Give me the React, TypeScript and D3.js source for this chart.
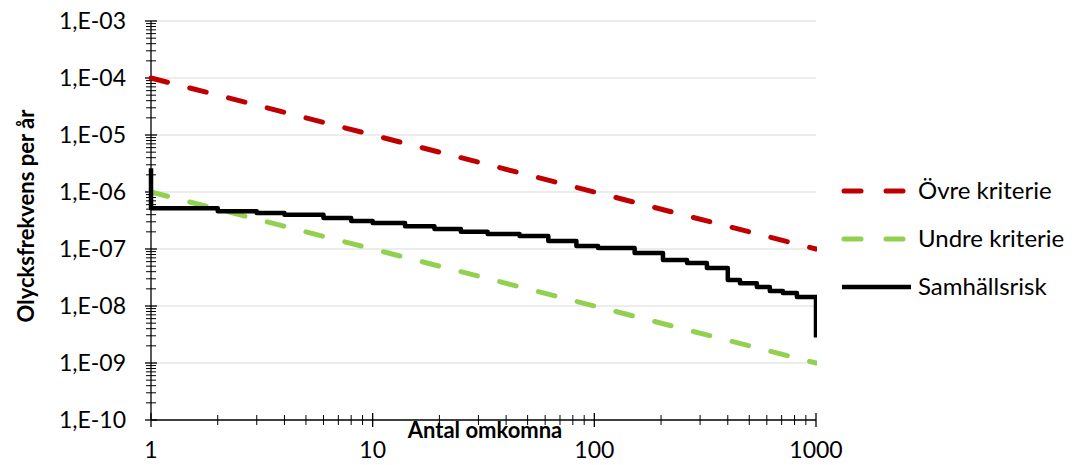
import React from 'react';
import * as d3 from 'd3';

// Samhällsrisk (FN-kurva), trappsteg: antal omkomna -> frekvens per år
const riskN = [1, 1, 2, 3, 4, 6, 8, 10, 14, 19, 25, 33, 46, 62, 83, 104, 152, 204, 262, 322, 400, 454, 541, 619, 709, 820, 1000, 1000];
const riskF = [2.6e-6, 5.2e-7, 4.6e-7, 4.3e-7, 4.0e-7, 3.5e-7, 3.1e-7, 2.85e-7, 2.5e-7, 2.25e-7, 2.0e-7, 1.83e-7, 1.69e-7, 1.38e-7, 1.13e-7, 1.04e-7, 8.5e-8, 6.4e-8, 5.7e-8, 4.65e-8, 2.85e-8, 2.5e-8, 2.15e-8, 1.83e-8, 1.69e-8, 1.44e-8, 1.44e-8, 2.8e-9];

// Kriterier
const critN = [1, 1000];
const upperF = [1e-4, 1e-7];
const lowerF = [1e-6, 1e-9];

const xTicks = [1, 10, 100, 1000];
const xTickLabels = ['1', '10', '100', '1000'];
const yTicks = [1e-10, 1e-9, 1e-8, 1e-7, 1e-6, 1e-5, 1e-4, 1e-3];
const yTickLabels = ['1,E-10', '1,E-09', '1,E-08', '1,E-07', '1,E-06', '1,E-05', '1,E-04', '1,E-03'];

const legendItems = [
  { label: 'Övre kriterie', color: '#C00000', dashed: true },
  { label: 'Undre kriterie', color: '#92D050', dashed: true },
  { label: 'Samhällsrisk', color: '#000000', dashed: false },
];

const W = 1077;
const H = 465;
const FONT = 'Lato, "Open Sans", sans-serif';

export default function App() {
  const x = d3.scaleLog().domain([1, 1000]).range([151, 816]);
  const y = d3.scaleLog().domain([1e-10, 1e-3]).range([420, 21]);

  const pts = (ns: number[], fs: number[]) => ns.map((n, i) => [n, fs[i]] as [number, number]);
  const line = d3.line<[number, number]>().x(d => x(d[0])).y(d => y(d[1]));
  const stepLine = d3.line<[number, number]>().x(d => x(d[0])).y(d => y(d[1])).curve(d3.curveStepAfter);

  // minor ticks
  const yMinor: number[] = [];
  for (let e = -10; e < -3; e++) for (let k = 2; k <= 9; k++) yMinor.push(k * Math.pow(10, e));
  const xMinor: number[] = [];
  for (let e = 0; e < 3; e++) for (let k = 2; k <= 9; k++) xMinor.push(k * Math.pow(10, e));

  const [x0, x1] = x.range();
  const [y0, y1] = y.range();

  return (
    <div style={{ position: 'absolute', left: 0, top: 0 }}>
      <svg width={W} height={H} style={{ display: 'block', background: '#fff' }}>
        <defs>
          <clipPath id="plot">
            <rect x={x0 - 4} y={y1 - 2} width={x1 - x0 + 5} height={y0 - y1 + 4} />
          </clipPath>
        </defs>

        {/* gridlines */}
        {yTicks.slice(1).map(t => (
          <line key={'g' + t} x1={x0} x2={x1} y1={y(t)} y2={y(t)} stroke="#D9D9D9" strokeWidth={1.2} />
        ))}

        {/* y axis */}
        <line x1={x0} x2={x0} y1={y1} y2={y0} stroke="#000" strokeWidth={1.3} />
        {yMinor.map(t => (
          <line key={'ym' + t} x1={x0 - 5} x2={x0 + 5} y1={y(t)} y2={y(t)} stroke="#000" strokeWidth={1} />
        ))}
        {yTicks.map((t, i) => (
          <g key={'yt' + t}>
            <line x1={x0 - 6} x2={x0 + 6} y1={y(t)} y2={y(t)} stroke="#000" strokeWidth={1.3} />
            <text x={126} y={y(t) + 8} textAnchor="end" fontFamily={FONT} fontSize={23} fill="#000">
              {yTickLabels[i]}
            </text>
          </g>
        ))}

        {/* x axis */}
        <line x1={x0} x2={x1} y1={y0} y2={y0} stroke="#000" strokeWidth={1.3} />
        {xMinor.map(t => (
          <line key={'xm' + t} x1={x(t)} x2={x(t)} y1={y0 - 5} y2={y0 + 5} stroke="#000" strokeWidth={1} />
        ))}
        {xTicks.map((t, i) => (
          <g key={'xt' + t}>
            <line x1={x(t)} x2={x(t)} y1={y0 - 7} y2={y0 + 7} stroke="#000" strokeWidth={1.3} />
            <text x={x(t)} y={458} textAnchor="middle" fontFamily={FONT} fontSize={23} fill="#000">
              {xTickLabels[i]}
            </text>
          </g>
        ))}

        {/* series */}
        <g clipPath="url(#plot)">
          <path d={line(pts(critN, upperF)) || ''} fill="none" stroke="#C00000" strokeWidth={5}
            strokeDasharray="17,23" strokeLinecap="round" />
          <path d={line(pts(critN, lowerF)) || ''} fill="none" stroke="#92D050" strokeWidth={5}
            strokeDasharray="17,23" strokeLinecap="round" />
          <path d={stepLine(pts(riskN, riskF)) || ''} fill="none" stroke="#000" strokeWidth={4.5}
            strokeLinejoin="round" />
        </g>

        {/* axis titles */}
        <text x={485} y={438} textAnchor="middle" fontFamily={FONT} fontSize={22} fontWeight="bold" fill="#000">
          Antal omkomna
        </text>
        <text transform={`translate(34, 216) rotate(-90)`} textAnchor="middle" fontFamily={FONT} fontSize={22}
          fontWeight="bold" fill="#000">
          Olycksfrekvens per år
        </text>

        {/* legend */}
        {legendItems.map((item, i) => {
          const ly = 191 + i * 48;
          return (
            <g key={item.label}>
              {item.dashed ? (
                <>
                  <line x1={844} x2={861} y1={ly} y2={ly} stroke={item.color} strokeWidth={5} strokeLinecap="round" />
                  <line x1={886} x2={903} y1={ly} y2={ly} stroke={item.color} strokeWidth={5} strokeLinecap="round" />
                </>
              ) : (
                <line x1={842} x2={911} y1={ly} y2={ly} stroke={item.color} strokeWidth={4.5} />
              )}
              <text x={918} y={ly + 8} fontFamily={FONT} fontSize={24} fill="#000">
                {item.label}
              </text>
            </g>
          );
        })}
      </svg>
    </div>
  );
}
